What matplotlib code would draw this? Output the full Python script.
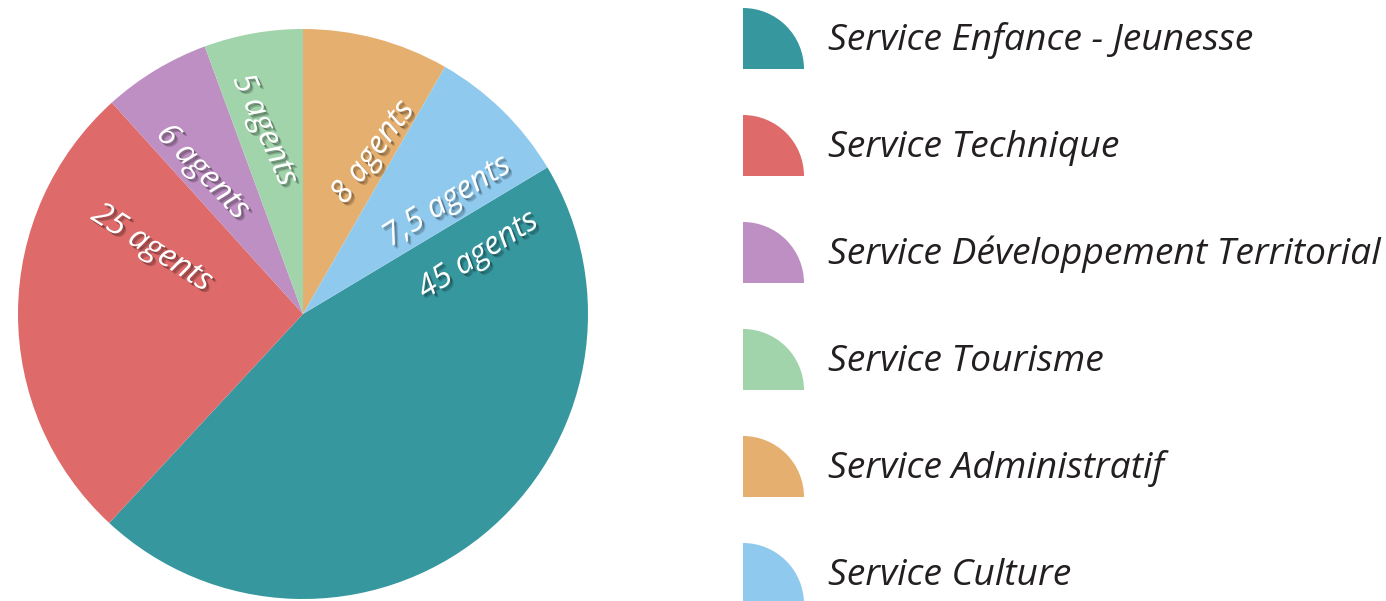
import matplotlib
matplotlib.use("Agg")
import matplotlib.pyplot as plt
import matplotlib.patheffects as pe
from matplotlib.patches import Wedge
import numpy as np

services = ["Service Enfance - Jeunesse", "Service Technique",
            "Service Développement Territorial", "Service Tourisme",
            "Service Administratif", "Service Culture"]
labels = ["45 agents", "25 agents", "6 agents", "5 agents", "8 agents", "7,5 agents"]
# share of the disc (%) as drawn in the picture
shares = [45.5, 26.4, 6.1, 5.6, 8.3, 8.1]
colors = ["#36979f", "#de6a6a", "#be8fc2", "#a1d4ab", "#e5b06f", "#8fcaee"]

# where each label sits (polar, in pie radius units) and how it is turned
label_r = [0.648, 0.578, 0.609, 0.659, 0.619, 0.642]
label_ang = [18.6, 156.4, 125.2, 101.7, 66.6, 38.1]
label_rot = [33, -32.5, -46, -66, 54, 32.4]

plt.rcParams['font.family'] = ['Open Sans', 'DejaVu Sans']

W, H = 1386, 601
fig = plt.figure(figsize=(W / 100, H / 100), dpi=100)

# pie: centre (303, 314) px from top, radius 285 px
cx, cy, r = 303, 314, 285
ax = fig.add_axes([(cx - r) / W, (H - cy - r) / H, 2 * r / W, 2 * r / H])
start = 90 - sum(shares[4:]) / sum(shares) * 360
ax.pie(shares, colors=colors, startangle=start, counterclock=False,
       radius=1, wedgeprops=dict(linewidth=0))
ax.set_xlim(-1, 1)
ax.set_ylim(-1, 1)
ax.set_aspect('equal')
ax.axis('off')

shadow = [pe.SimplePatchShadow(offset=(2.5, -2.5), shadow_rgbFace='#000000', alpha=0.18),
          pe.SimplePatchShadow(offset=(1.5, -1.5), shadow_rgbFace='#000000', alpha=0.25),
          pe.Normal()]
for txt, rr, a, rot in zip(labels, label_r, label_ang, label_rot):
    t = np.deg2rad(a)
    ax.text(rr * np.cos(t), rr * np.sin(t), txt, color='white', fontsize=23,
            style='italic', ha='center', va='center', rotation=rot,
            rotation_mode='anchor', path_effects=shadow)

# legend drawn in pixel space
lg = fig.add_axes([0, 0, 1, 1])
lg.set_xlim(0, W)
lg.set_ylim(0, H)
lg.axis('off')
for i, (name, c) in enumerate(zip(services, colors)):
    base = 69 + 107 * i
    lg.add_patch(Wedge((743, H - base), 61, 0, 90, facecolor=c, linewidth=0))
    lg.text(828, H - (base - 19), name, fontsize=26.8, style='italic',
            color='#231f20', ha='left', va='baseline')

fig.savefig("out.png", dpi=100)
